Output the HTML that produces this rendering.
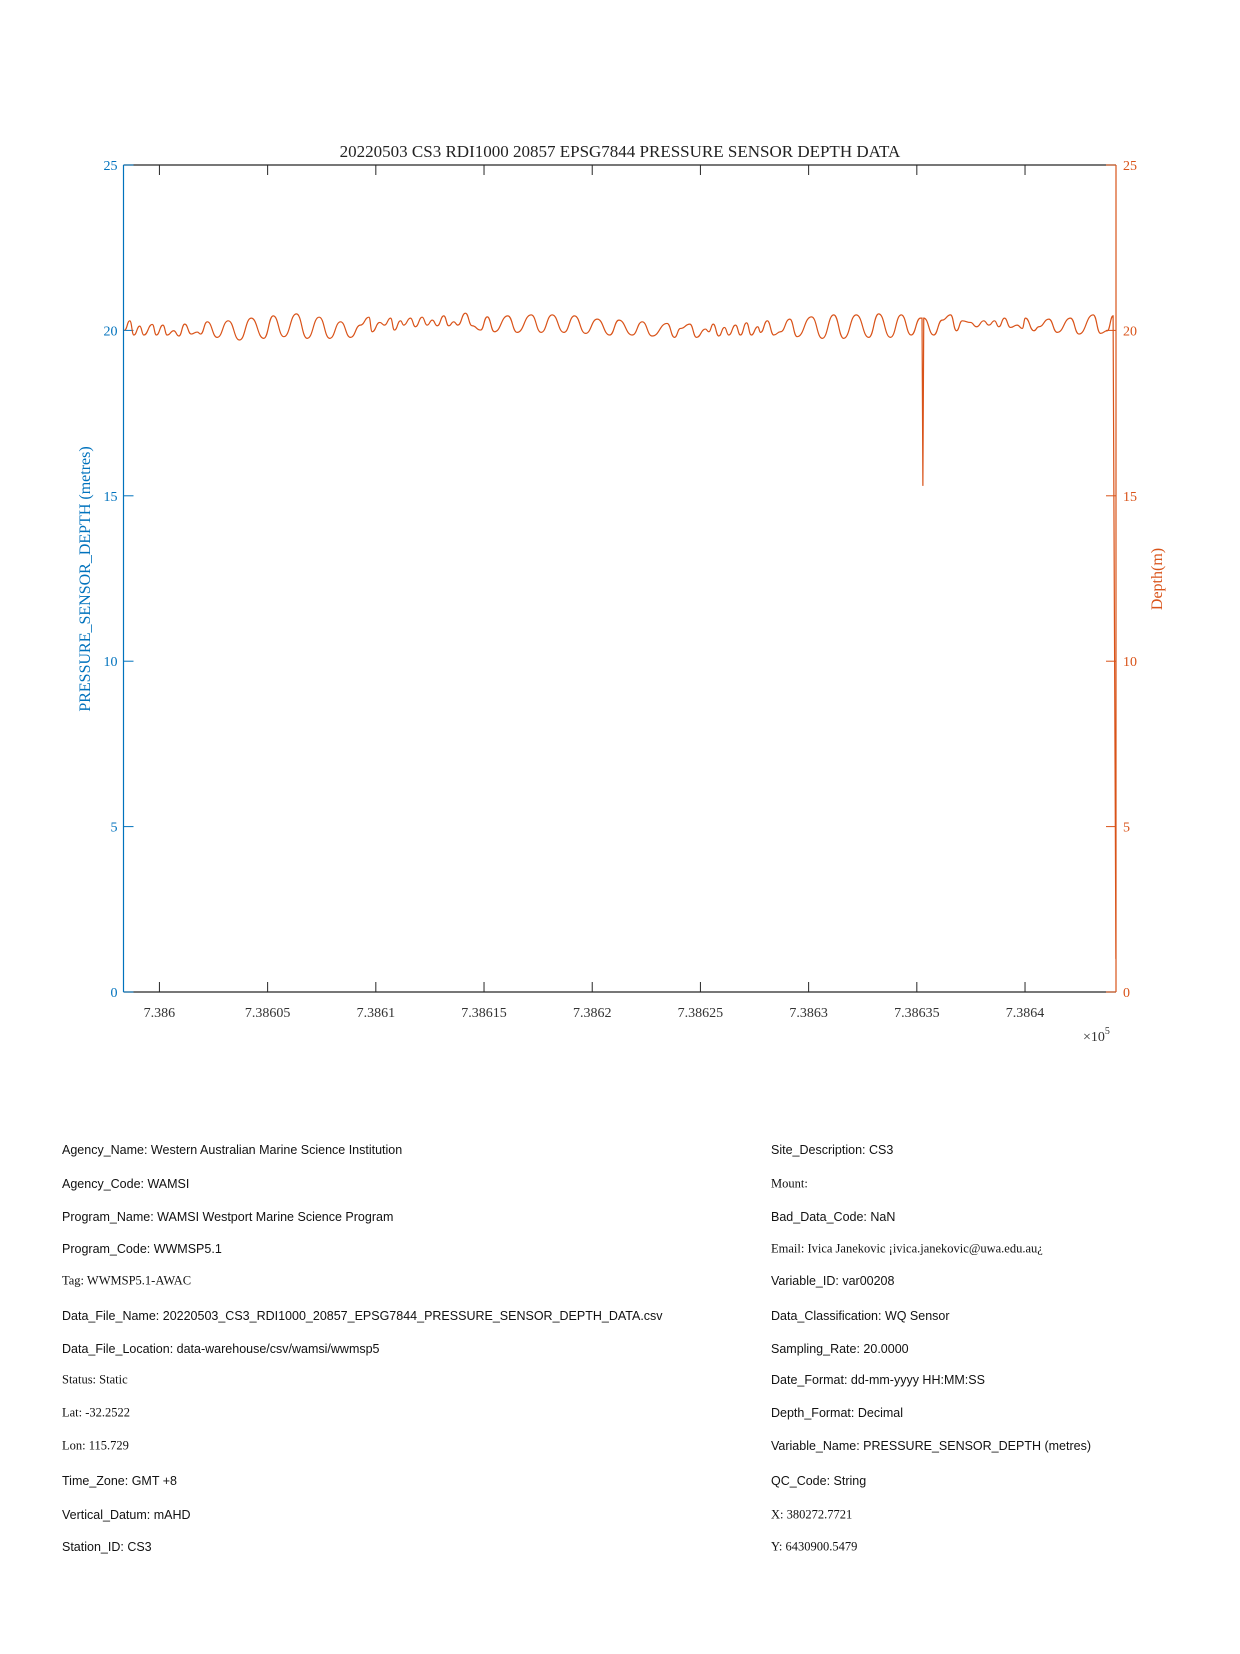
<!DOCTYPE html>
<html><head><meta charset="utf-8">
<style>
html,body{margin:0;padding:0;background:#fff;}
body{width:1240px;height:1654px;position:relative;overflow:hidden;}
.meta{position:absolute;font-family:"Liberation Sans",sans-serif;font-size:12.5px;color:#111;white-space:nowrap;transform:translateY(-50%);}
.meta.s{font-family:"Liberation Serif",serif;font-size:12.5px;}
svg text{font-family:"Liberation Serif",serif;}
</style></head>
<body>
<svg id="chart" width="1240" height="1100" style="position:absolute;left:0;top:0">
<text x="620" y="157" font-size="17" text-anchor="middle" fill="#222">20220503 CS3 RDI1000 20857 EPSG7844 PRESSURE SENSOR DEPTH DATA</text>
<g id="axes"></g>
<path id="series" fill="none" stroke="#D95319" stroke-width="1.2"/>
<text transform="translate(90,579) rotate(-90)" font-size="16" text-anchor="middle" fill="#0072BD">PRESSURE_SENSOR_DEPTH (metres)</text>
<text transform="translate(1162,579) rotate(-90)" font-size="16" text-anchor="middle" fill="#D95319">Depth(m)</text>
<text x="1083" y="1041" font-size="14" fill="#333">×10<tspan dy="-7" font-size="10">5</tspan></text>
</svg>

<div class="meta" style="left:62px;top:1150px">Agency_Name: Western Australian Marine Science Institution</div>
<div class="meta" style="left:62px;top:1184px">Agency_Code: WAMSI</div>
<div class="meta" style="left:62px;top:1217px">Program_Name: WAMSI Westport Marine Science Program</div>
<div class="meta" style="left:62px;top:1249px">Program_Code: WWMSP5.1</div>
<div class="meta s" style="left:62px;top:1281px">Tag: WWMSP5.1-AWAC</div>
<div class="meta" style="left:62px;top:1316px">Data_File_Name: 20220503_CS3_RDI1000_20857_EPSG7844_PRESSURE_SENSOR_DEPTH_DATA.csv</div>
<div class="meta" style="left:62px;top:1349px">Data_File_Location: data-warehouse/csv/wamsi/wwmsp5</div>
<div class="meta s" style="left:62px;top:1380px">Status: Static</div>
<div class="meta s" style="left:62px;top:1413px">Lat: -32.2522</div>
<div class="meta s" style="left:62px;top:1446px">Lon: 115.729</div>
<div class="meta" style="left:62px;top:1481px">Time_Zone: GMT +8</div>
<div class="meta" style="left:62px;top:1515px">Vertical_Datum: mAHD</div>
<div class="meta" style="left:62px;top:1547px">Station_ID: CS3</div>

<div class="meta" style="left:771px;top:1150px">Site_Description: CS3</div>
<div class="meta s" style="left:771px;top:1184px">Mount:</div>
<div class="meta" style="left:771px;top:1217px">Bad_Data_Code: NaN</div>
<div class="meta s" style="left:771px;top:1249px">Email: Ivica Janekovic ¡ivica.janekovic@uwa.edu.au¿</div>
<div class="meta" style="left:771px;top:1281px">Variable_ID: var00208</div>
<div class="meta" style="left:771px;top:1316px">Data_Classification: WQ Sensor</div>
<div class="meta" style="left:771px;top:1349px">Sampling_Rate: 20.0000</div>
<div class="meta" style="left:771px;top:1380px">Date_Format: dd-mm-yyyy HH:MM:SS</div>
<div class="meta" style="left:771px;top:1413px">Depth_Format: Decimal</div>
<div class="meta" style="left:771px;top:1446px">Variable_Name: PRESSURE_SENSOR_DEPTH (metres)</div>
<div class="meta" style="left:771px;top:1481px">QC_Code: String</div>
<div class="meta s" style="left:771px;top:1515px">X: 380272.7721</div>
<div class="meta s" style="left:771px;top:1547px">Y: 6430900.5479</div>

<script>
const T0 = 738598.34;
const timeOffsets = [0.05,0.29,0.48,0.75,0.94,1.33,1.52,1.82,2.02,2.32,2.56,2.83,3.13,3.41,3.56,3.87,4.33,4.84,5.36,5.90,6.48,6.92,7.41,7.99,8.49,9.04,9.53,10.03,10.49,10.95,11.34,11.49,11.84,12.06,12.34,12.52,12.80,12.95,13.26,13.49,13.80,14.03,14.27,14.50,14.80,15.03,15.26,15.45,15.80,16.11,16.50,16.81,17.14,17.76,18.19,18.84,19.30,19.81,20.35,20.84,21.35,21.89,22.47,22.89,23.51,23.97,24.43,25.12,25.46,25.74,26.17,26.48,26.89,27.05,27.25,27.51,27.77,27.97,28.28,28.51,28.79,29.01,29.31,29.44,29.75,30.05,30.36,30.79,31.13,31.79,32.29,32.82,33.28,33.86,34.44,34.90,35.44,35.94,36.40,36.83,36.90,36.94,36.98,37.44,37.83,38.22,38.49,38.76,39.14,39.42,39.75,39.99,40.25,40.45,40.71,40.99,41.30,41.53,41.68,42.07,42.30,42.76,43.15,43.76,44.15,44.81,45.15,45.46,45.73,45.86];
const depths = [20.01,20.29,19.86,20.13,19.86,20.18,19.86,20.16,19.86,19.99,19.83,20.19,19.89,19.95,19.89,20.26,19.79,20.29,19.71,20.37,19.76,20.44,19.81,20.50,19.76,20.40,19.76,20.26,19.79,20.16,20.40,19.96,20.24,20.16,20.37,20.01,20.29,20.16,20.37,20.11,20.40,20.16,20.31,20.14,20.44,20.14,20.26,20.16,20.52,20.14,20.01,20.41,19.96,20.44,19.94,20.47,19.94,20.47,19.94,20.44,19.91,20.34,19.86,20.31,19.86,20.26,19.83,20.21,19.79,20.06,20.19,19.79,20.04,19.96,20.19,19.83,20.09,19.86,20.16,19.86,20.23,19.86,20.11,19.94,20.29,19.86,19.96,20.34,19.81,20.41,19.76,20.47,19.76,20.47,19.79,20.50,19.79,20.47,19.86,20.37,20.37,15.30,20.37,19.86,20.31,20.47,19.99,20.29,20.24,20.11,20.29,20.16,20.29,20.11,20.37,20.09,20.16,20.06,20.37,19.99,20.11,20.34,19.94,20.37,19.89,20.47,19.91,19.99,20.44,1.0];
const xTicks = [738600,738605,738610,738615,738620,738625,738630,738635,738640];
const xTickLabels = ["7.386","7.38605","7.3861","7.38615","7.3862","7.38625","7.3863","7.38635","7.3864"];
const yTicks = [0,5,10,15,20,25];

const L=123.5,R=1116,T=165,B=992;
const XMIN=738598.34, XMAX=XMIN+(R-L)*5/108.2;
const sx=v=>L+(v-XMIN)/(XMAX-XMIN)*(R-L);
const sy=v=>B-(v/25)*(B-T);
const NS="http://www.w3.org/2000/svg";
const ax=document.getElementById('axes');
function mk(tag,attrs,parent){const e=document.createElementNS(NS,tag);for(const k in attrs)e.setAttribute(k,attrs[k]);(parent||ax).appendChild(e);return e;}

let el;
el=mk('line',{x1:L,y1:T,x2:R,y2:T,stroke:'#262626','stroke-width':1.2});


el=mk('line',{x1:L,y1:B,x2:R,y2:B,stroke:'#262626','stroke-width':1.2});


el=mk('line',{x1:L,y1:T,x2:L,y2:B,stroke:'#0072BD','stroke-width':1.2});


el=mk('line',{x1:R,y1:T,x2:R,y2:B,stroke:'#D95319','stroke-width':1.2});



xTicks.forEach((t,i)=>{
  const x=sx(t);
  el=mk('line',{x1:x,y1:B,x2:x,y2:B-10,stroke:'#262626','stroke-width':1});
  
  
  el=mk('line',{x1:x,y1:T,x2:x,y2:T+10,stroke:'#262626','stroke-width':1});
  
  
  el=mk('text',{x:x,y:B+25,'font-size':14,'text-anchor':'middle',fill:'#333'});
  el.textContent=xTickLabels[i];
  
  
});
yTicks.forEach(v=>{
  const y=sy(v);
  el=mk('line',{x1:L,y1:y,x2:L+10,y2:y,stroke:'#0072BD','stroke-width':1});
  
  
  el=mk('line',{x1:R,y1:y,x2:R-10,y2:y,stroke:'#D95319','stroke-width':1});
  
  
  el=mk('text',{x:L-6,y:y+5,'font-size':14,'text-anchor':'end',fill:'#0072BD'});
  el.textContent=String(v);
  
  
  el=mk('text',{x:R+7,y:y+5,'font-size':14,'text-anchor':'start',fill:'#D95319'});
  el.textContent=String(v);
  
  
});

const times=timeOffsets.map(s=>T0+s);
let d='';
for(let i=0;i<times.length;i++){
  const x=sx(times[i]),y=sy(depths[i]);
  if(i===0){d+='M'+x.toFixed(2)+' '+y.toFixed(2);continue;}
  const px=sx(times[i-1]),py=sy(depths[i-1]);
  if(Math.abs(depths[i]-depths[i-1])>2){d+=' L'+x.toFixed(2)+' '+y.toFixed(2);}
  else{const mx=(px+x)/2;d+=' C'+mx.toFixed(2)+' '+py.toFixed(2)+' '+mx.toFixed(2)+' '+y.toFixed(2)+' '+x.toFixed(2)+' '+y.toFixed(2);}
}
document.getElementById('series').setAttribute('d',d);
</script>
</body></html>
